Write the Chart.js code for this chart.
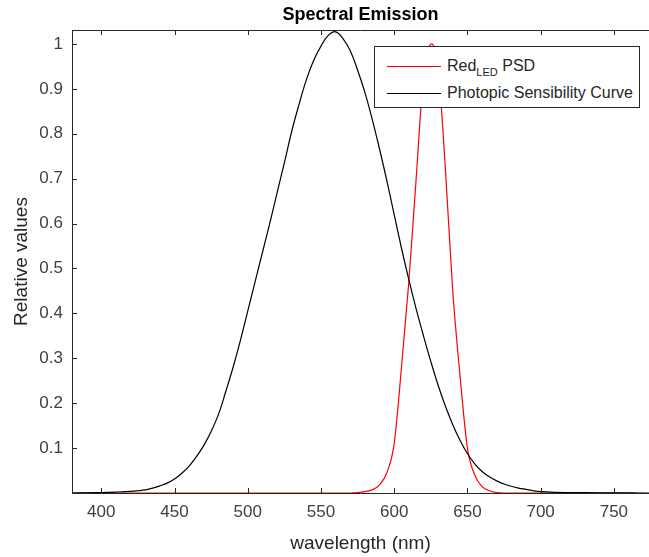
<!DOCTYPE html>
<html lang="en">
<head>
  <meta charset="UTF-8" />
  <title>Spectral Emission</title>
  <script src="https://cdn.jsdelivr.net/npm/chart.js"></script>
  <style>
    body { margin: 0; background: #fff; }
    .wrap { position: relative; width: 649px; height: 557px; }
    .legend {
      position: absolute; left: 374px; top: 46px; width: 264px; height: 60px;
      border: 1px solid #262626; background: #fff;
      font-family: "Liberation Sans", Arial, sans-serif; font-size: 16px; color: #262626;
    }
    .legend .row { position: absolute; left: 0; height: 20px; line-height: 20px; white-space: nowrap; }
    .legend .swatch { position: absolute; left: 12px; top: 10px; width: 54px; height: 0; border-top: 1px solid; }
    .legend .label { position: absolute; left: 72px; top: 0; }
    .legend sub { font-size: 11px; vertical-align: -5px; line-height: 0; }
  </style>
</head>
<body>
  <div class="wrap">
    <canvas id="chart" width="649" height="557"></canvas>
    <div class="legend">
      <div class="row" style="top:9px"><span class="swatch" style="border-color:#ff0000"></span><span class="label">Red<sub>LED</sub> PSD</span></div>
      <div class="row" style="top:36px"><span class="swatch" style="border-color:#000"></span><span class="label">Photopic Sensibility Curve</span></div>
    </div>
  </div>

  <script>
    // values
    const redWavelengths = [380, 570, 575, 580, 585, 590, 595, 600, 605, 610, 615, 620, 623, 625.5, 628, 631, 635, 640, 645, 650, 655, 660, 665, 670, 675, 765];
    const redValues      = [0, 0, 0.001, 0.003, 0.007, 0.018, 0.045, 0.11, 0.28, 0.47, 0.70, 0.93, 0.985, 1.0, 0.985, 0.91, 0.72, 0.45, 0.26, 0.10, 0.04, 0.014, 0.005, 0.001, 0, 0];

    const eyeWavelengths = [380, 390, 400, 410, 420, 425, 430, 435, 440, 445, 450, 455, 460, 465, 470, 475, 480, 485, 490, 495,
                            500, 505, 510, 515, 520, 525, 530, 535, 540, 545, 550, 555, 560, 565, 570, 575, 580, 585, 590,
                            595, 600, 605, 610, 615, 620, 625, 630, 635, 640, 645, 650, 655, 660, 665, 670, 675, 680, 685, 690,
                            695, 700, 710, 720, 740, 774];
    const eyeValues      = [0, 0.0005, 0.001, 0.002, 0.0035, 0.005, 0.007, 0.011, 0.016, 0.022, 0.031, 0.044, 0.06, 0.081, 0.106, 0.137, 0.175, 0.226, 0.28, 0.34,
                            0.405, 0.47, 0.535, 0.60, 0.668, 0.735, 0.805, 0.865, 0.92, 0.963, 0.995, 1.019, 1.027, 1.012, 0.985, 0.942, 0.892, 0.832, 0.766,
                            0.695, 0.62, 0.545, 0.475, 0.41, 0.35, 0.293, 0.24, 0.193, 0.152, 0.117, 0.088, 0.065, 0.048, 0.036, 0.027, 0.02, 0.015, 0.011, 0.008,
                            0.005, 0.003, 0.0015, 0.001, 0.0005, 0];

    const xTicks = [400, 450, 500, 550, 600, 650, 700, 750];
    const yTicks = [0.1, 0.2, 0.3, 0.4, 0.5, 0.6, 0.7, 0.8, 0.9, 1];

    const axisColor = "#262626";
    const font = "'Liberation Sans', Arial, sans-serif";

    const toPoints = (xs, ys) => xs.map((x, i) => ({ x: x, y: ys[i] }));

    // MATLAB style box with inward ticks
    const boxTicks = {
      id: "boxTicks",
      afterDatasetsDraw(chart) {
        const { ctx, chartArea: a, scales } = chart;
        const len = 5;
        ctx.save();
        ctx.strokeStyle = axisColor;
        ctx.lineWidth = 1;
        ctx.beginPath();
        ctx.moveTo(a.left + 0.5, a.top + 0.5);
        ctx.lineTo(a.left + 0.5, a.bottom + 0.5);
        ctx.moveTo(a.left, a.top + 0.5);
        ctx.lineTo(a.right, a.top + 0.5);
        ctx.moveTo(a.left, a.bottom + 0.5);
        ctx.lineTo(a.right, a.bottom + 0.5);
        xTicks.forEach(v => {
          const px = Math.round(scales.x.getPixelForValue(v)) + 0.5;
          ctx.moveTo(px, a.bottom);
          ctx.lineTo(px, a.bottom - len);
          ctx.moveTo(px, a.top);
          ctx.lineTo(px, a.top + len);
        });
        yTicks.forEach(v => {
          const py = Math.round(scales.y.getPixelForValue(v)) + 0.5;
          ctx.moveTo(a.left, py);
          ctx.lineTo(a.left + len, py);
        });
        ctx.stroke();
        ctx.restore();
      }
    };

    new Chart(document.getElementById("chart"), {
      type: "line",
      data: {
        datasets: [
          {
            label: "Photopic Sensibility Curve",
            data: toPoints(eyeWavelengths, eyeValues),
            borderColor: "#000000",
            borderWidth: 1.2,
            pointRadius: 0,
            tension: 0.4,
            order: 0
          },
          {
            label: "Red LED PSD",
            data: toPoints(redWavelengths, redValues),
            borderColor: "#ff0000",
            borderWidth: 1.2,
            pointRadius: 0,
            cubicInterpolationMode: "monotone",
            order: 1
          }
        ]
      },
      options: {
        responsive: false,
        animation: false,
        layout: { padding: { left: 0, right: 0, top: 0, bottom: 0 } },
        plugins: {
          legend: { display: false },
          tooltip: { enabled: false },
          title: {
            display: true,
            text: "Spectral Emission",
            fullSize: false,
            color: "#000",
            font: { family: font, size: 18, weight: "bold" },
            padding: { top: 4, bottom: 4.4 }
          }
        },
        scales: {
          x: {
            type: "linear",
            min: 380,
            max: 774,
            afterBuildTicks: s => { s.ticks = xTicks.map(v => ({ value: v })); },
            afterFit: s => { s.height = 64; },
            grid: { display: false, drawTicks: false },
            border: { display: false },
            ticks: { color: "#404040", font: { family: font, size: 17 }, padding: 9, maxRotation: 0, autoSkip: false },
            title: { display: true, text: "wavelength (nm)", color: "#262626", font: { family: font, size: 19 }, padding: { top: 0, bottom: 2 } }
          },
          y: {
            type: "linear",
            min: 0,
            max: 1.031,
            afterBuildTicks: s => { s.ticks = yTicks.map(v => ({ value: v })); },
            afterFit: s => { s.width = 72; },
            grid: { display: false, drawTicks: false },
            border: { display: false },
            ticks: {
              color: "#404040", font: { family: font, size: 17 }, padding: 9, autoSkip: false,
              callback: v => String(Number(v.toFixed(2)))
            },
            title: { display: true, text: "Relative values", color: "#262626", font: { family: font, size: 19 }, padding: { top: 10, bottom: 0 } }
          }
        }
      },
      plugins: [boxTicks]
    });
  </script>
</body>
</html>
